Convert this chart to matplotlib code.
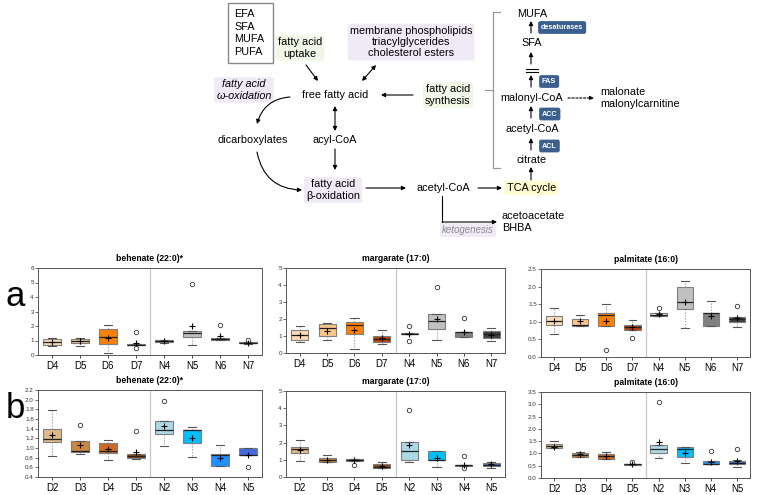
import numpy as np
import matplotlib
matplotlib.use("Agg")
import matplotlib.pyplot as plt

plt.rcParams['font.family'] = ['Liberation Sans', 'DejaVu Sans']

# group labels
groups_a = ['D4', 'D5', 'D6', 'D7', 'N4', 'N5', 'N6', 'N7']
groups_b = ['D2', 'D3', 'D4', 'D5', 'N2', 'N3', 'N4', 'N5']

# box stats per group: [whisker low, q1, median, q3, whisker high, mean]
behenate_a = [[0.62, 0.72, 0.88, 1.10, 1.20, 0.93],
              [0.65, 0.80, 0.95, 1.12, 1.15, 0.97],
              [0.12, 0.74, 1.27, 1.78, 2.05, 1.15],
              [0.68, 0.69, 0.72, 0.75, 0.75, 0.85],
              [0.82, 0.90, 0.95, 1.02, 1.05, 0.97],
              [0.68, 1.25, 1.50, 1.65, 1.65, 1.98],
              [1.02, 1.05, 1.12, 1.18, 1.20, 1.30],
              [0.78, 0.80, 0.83, 0.88, 0.88, 0.85]]
behenate_a_out = [[], [], [], [1.6, 0.45], [], [4.9], [2.05], [1.02]]

margarate_a = [[0.65, 0.75, 1.04, 1.37, 1.60, 1.07],
               [0.78, 0.98, 1.47, 1.70, 1.75, 1.32],
               [0.25, 1.12, 1.67, 1.82, 2.06, 1.37],
               [0.53, 0.65, 0.82, 0.98, 1.37, 0.88],
               [1.10, 1.10, 1.13, 1.17, 1.17, 1.13],
               [0.78, 1.41, 1.86, 2.31, 2.31, 2.02],
               [0.92, 0.94, 1.22, 1.25, 1.25, 1.25],
               [0.69, 0.88, 1.10, 1.31, 1.47, 1.08]]
margarate_a_out = [[], [], [], [], [1.58, 0.72], [3.9], [2.05], []]

palmitate_a = [[0.65, 0.91, 1.02, 1.16, 1.38, 1.02],
               [0.88, 0.88, 0.90, 1.07, 1.18, 1.02],
               [0.89, 0.89, 1.19, 1.26, 1.50, 1.02],
               [0.78, 0.78, 0.84, 0.91, 1.06, 0.84],
               [1.17, 1.17, 1.20, 1.24, 1.24, 1.21],
               [0.81, 1.36, 1.56, 1.98, 2.15, 1.57],
               [0.89, 0.89, 1.26, 1.26, 1.58, 1.17],
               [0.84, 1.00, 1.08, 1.15, 1.15, 1.10]]
palmitate_a_out = [[], [], [0.2], [0.55], [1.38], [], [], [1.45]]

behenate_b = [[0.83, 1.13, 1.19, 1.40, 1.78, 1.26],
              [0.88, 0.92, 0.94, 1.14, 1.14, 1.07],
              [0.75, 0.90, 0.94, 1.11, 1.17, 0.98],
              [0.78, 0.80, 0.84, 0.88, 0.88, 0.92],
              [1.05, 1.30, 1.37, 1.55, 1.55, 1.45],
              [0.82, 1.10, 1.37, 1.37, 1.43, 1.21],
              [0.62, 0.62, 0.86, 0.88, 1.07, 0.79],
              [0.85, 0.85, 0.85, 0.99, 0.99, 0.86]]
behenate_b_out = [[], [1.48], [], [1.35], [1.97], [], [], [0.6]]

margarate_b = [[0.95, 1.37, 1.60, 1.76, 2.18, 1.55],
               [0.85, 0.88, 0.97, 1.08, 1.30, 1.00],
               [0.95, 0.95, 1.00, 1.02, 1.02, 0.98],
               [0.50, 0.53, 0.60, 0.75, 0.85, 0.62],
               [0.85, 0.98, 1.52, 2.02, 2.02, 1.85],
               [0.60, 1.00, 1.00, 1.52, 1.52, 1.13],
               [0.65, 0.65, 0.68, 0.70, 0.70, 0.70],
               [0.50, 0.62, 0.72, 0.82, 0.88, 0.74]]
margarate_b_out = [[], [], [0.68], [], [3.9], [], [1.22, 0.5], []]

palmitate_b = [[1.22, 1.22, 1.30, 1.37, 1.52, 1.28],
               [0.84, 0.84, 0.95, 1.03, 1.07, 0.98],
               [0.76, 0.76, 0.90, 0.99, 1.07, 0.90],
               [0.53, 0.53, 0.55, 0.57, 0.57, 0.56],
               [0.80, 1.00, 1.17, 1.33, 1.33, 1.48],
               [0.63, 0.85, 1.17, 1.28, 1.28, 1.03],
               [0.55, 0.55, 0.56, 0.70, 0.70, 0.67],
               [0.46, 0.55, 0.63, 0.69, 0.75, 0.68]]
palmitate_b_out = [[], [], [], [0.65], [3.08], [], [1.1], [1.2]]

colors_a = ['#fcdcb4', '#fbc68a', '#ff8000', '#c04000',
            '#e6e6e6', '#c0c0c0', '#808080', '#404040']
colors_b = ['#deb887', '#cd853f', '#d2691e', '#8b4513',
            '#add8e6', '#00bfff', '#1e90ff', '#4169e1']

W, H = 760, 495
fig = plt.figure(figsize=(W / 100, H / 100), dpi=100)


def box_panel(px, title, groups, rows, outs, colors, ylim, yticks, fmt):
    # px = (left, top, right, bottom) in pixels
    l, t, r, b = px
    ax = fig.add_axes([l / W, 1 - b / H, (r - l) / W, (b - t) / H])
    stats = []
    for g, row, out in zip(groups, rows, outs):
        lo, q1, med, q3, hi, mean = row
        stats.append(dict(label=g, whislo=lo, q1=q1, med=med, q3=q3,
                          whishi=hi, mean=mean, fliers=out))
    bp = ax.bxp(stats, widths=0.62, patch_artist=True, showmeans=True,
                boxprops=dict(edgecolor='#7f7f7f', lw=0.8),
                medianprops=dict(color='#222222', lw=0.9),
                whiskerprops=dict(color='#8a8a8a', lw=0.8, ls=':'),
                capprops=dict(color='#555555', lw=0.8),
                capwidths=0.3,
                meanprops=dict(marker='+', markeredgecolor='black',
                               markersize=5, markeredgewidth=0.8),
                flierprops=dict(marker='o', markerfacecolor='none',
                                markeredgecolor='#333333', markersize=3.2,
                                markeredgewidth=0.6))
    for patch, c in zip(bp['boxes'], colors):
        patch.set_facecolor(c)
    ax.axvline(4.5, color='#c8c8c8', lw=0.9, zorder=0)
    ax.set_xlim(0.5, 8.5)
    ax.set_ylim(*ylim)
    ax.set_yticks(yticks)
    ax.set_yticklabels([fmt % v for v in yticks])
    ax.tick_params(axis='y', labelsize=4.5, length=2, width=0.5, pad=1,
                   colors='#333333')
    ax.tick_params(axis='x', labelsize=7, length=2.5, width=0.5, pad=2)
    for s in ax.spines.values():
        s.set_color('#555555')
        s.set_linewidth(0.7)
    ax.set_title(title, fontsize=6.2, fontweight='bold', pad=5)
    return ax


box_panel((38, 268, 262, 355), 'behenate (22:0)*', groups_a, behenate_a,
          behenate_a_out, colors_a, (0, 6), np.arange(0, 7, 1), '%d')
box_panel((286, 268, 505, 353), 'margarate (17:0)', groups_a, margarate_a,
          margarate_a_out, colors_a, (0, 5), np.arange(0, 6, 1), '%d')
box_panel((541, 269, 750, 357), 'palmitate (16:0)', groups_a, palmitate_a,
          palmitate_a_out, colors_a, (0, 2.5), np.arange(0, 2.6, 0.5), '%.1f')
box_panel((38, 390, 262, 477), 'behenate (22:0)*', groups_b, behenate_b,
          behenate_b_out, colors_b, (0.4, 2.2), np.arange(0.4, 2.21, 0.2), '%.1f')
box_panel((286, 391, 505, 477), 'margarate (17:0)', groups_b, margarate_b,
          margarate_b_out, colors_b, (0, 5), np.arange(0, 6, 1), '%d')
box_panel((541, 392, 750, 478), 'palmitate (16:0)', groups_b, palmitate_b,
          palmitate_b_out, colors_b, (0, 3.5), np.arange(0, 3.6, 0.5), '%.1f')

fig.text(15 / W, 1 - 296 / H, 'a', fontsize=25, ha='center', va='center')
fig.text(15 / W, 1 - 408 / H, 'b', fontsize=25, ha='center', va='center')

# pathway diagram, pixel coordinates
d = fig.add_axes([0, 0, 1, 1])
d.set_xlim(0, W)
d.set_ylim(H, 0)
d.axis('off')

PURPLE = '#efeaf6'
GREEN = '#f1f7e6'
YELLOW = '#fffcd2'
BADGE = '#3b5f8f'


def label(x, y, s, glow=None, ha='center', **kw):
    bbox = None
    if glow:
        bbox = dict(boxstyle='round,pad=0.2', fc=glow, ec='none')
    d.text(x, y, s, ha=ha, va='center', fontsize=kw.pop('fontsize', 7.8),
           bbox=bbox, linespacing=kw.pop('linespacing', 1.15), **kw)


def arrow(x0, y0, x1, y1, style='-|>', rad=0.0, ls='-'):
    d.annotate('', xy=(x1, y1), xytext=(x0, y0),
               arrowprops=dict(arrowstyle=style, color='black', lw=0.8,
                               shrinkA=0, shrinkB=0, mutation_scale=6,
                               linestyle=ls,
                               connectionstyle='arc3,rad=%s' % rad))


def badge(x, y, s):
    d.text(x, y, s, ha='left', va='center', fontsize=5.2, color='white',
           fontweight='bold',
           bbox=dict(boxstyle='round,pad=0.4,rounding_size=0.3', fc=BADGE, ec='none'))


# class box
d.add_patch(plt.Rectangle((228, 3), 45, 60, fill=False, ec='#888888', lw=1))
label(234, 33, 'EFA\nSFA\nMUFA\nPUFA', ha='left', linespacing=1.3)

label(300, 48, 'fatty acid\nuptake', glow=GREEN)
label(411, 42, 'membrane phospholipids\ntriacylglycerides\ncholesterol esters',
      glow=PURPLE)
label(244, 90, 'fatty acid\nω-oxidation', glow=PURPLE, style='italic')
label(335, 95, 'free fatty acid')
label(448, 95, 'fatty acid\nsynthesis', glow=GREEN)
label(253, 140, 'dicarboxylates')
label(335, 140, 'acyl-CoA')
label(333, 190, 'fatty acid\nβ-oxidation', glow=PURPLE)
label(443, 188, 'acetyl-CoA')
label(507, 188, 'TCA cycle', glow=YELLOW, ha='left')
label(502, 222, 'acetoacetate\nBHBA', ha='left')
label(468, 230, 'ketogenesis', glow=PURPLE, style='italic', color='#8a8a8a',
      fontsize=7)

arrow(306, 65, 318, 81)
arrow(362, 81, 376, 65, style='<|-|>')
arrow(413, 95, 381, 95)
arrow(290, 97, 257, 124, rad=0.35)
arrow(335, 106, 335, 131, style='<|-|>')
arrow(335, 149, 335, 170)
arrow(257, 152, 302, 190, rad=0.4)
arrow(366, 188, 406, 188)
arrow(478, 188, 502, 188)
d.plot([442, 442], [196, 222], color='black', lw=0.8)
arrow(442, 222, 497, 222)

# de novo synthesis branch
d.plot([500, 493, 493, 500], [12, 12, 168, 168], color='#999999', lw=0.9)
d.plot([493, 485], [90, 90], color='#999999', lw=0.9)
label(532, 14, 'MUFA')
arrow(531, 33, 531, 21)
badge(541, 27.5, 'desaturases')
label(532, 43, 'SFA')
arrow(531, 64, 531, 52)
d.plot([526, 538], [69, 69], color='black', lw=0.8)
d.plot([526, 538], [71.5, 71.5], color='black', lw=0.8)
arrow(531, 87, 531, 75)
badge(542, 81.5, 'FAS')
label(532, 98, 'malonyl-CoA')
arrow(568, 98, 594, 98, ls=(0, (2, 1.5)))
label(600, 98, 'malonate\nmalonylcarnitine', ha='left')
arrow(531, 118, 531, 106)
badge(542, 114, 'ACC')
label(532, 129, 'acetyl-CoA')
arrow(531, 150, 531, 138)
badge(542, 146, 'ACL')
label(532, 160, 'citrate')
arrow(531, 180, 531, 167)

fig.savefig('out.png', dpi=100)
